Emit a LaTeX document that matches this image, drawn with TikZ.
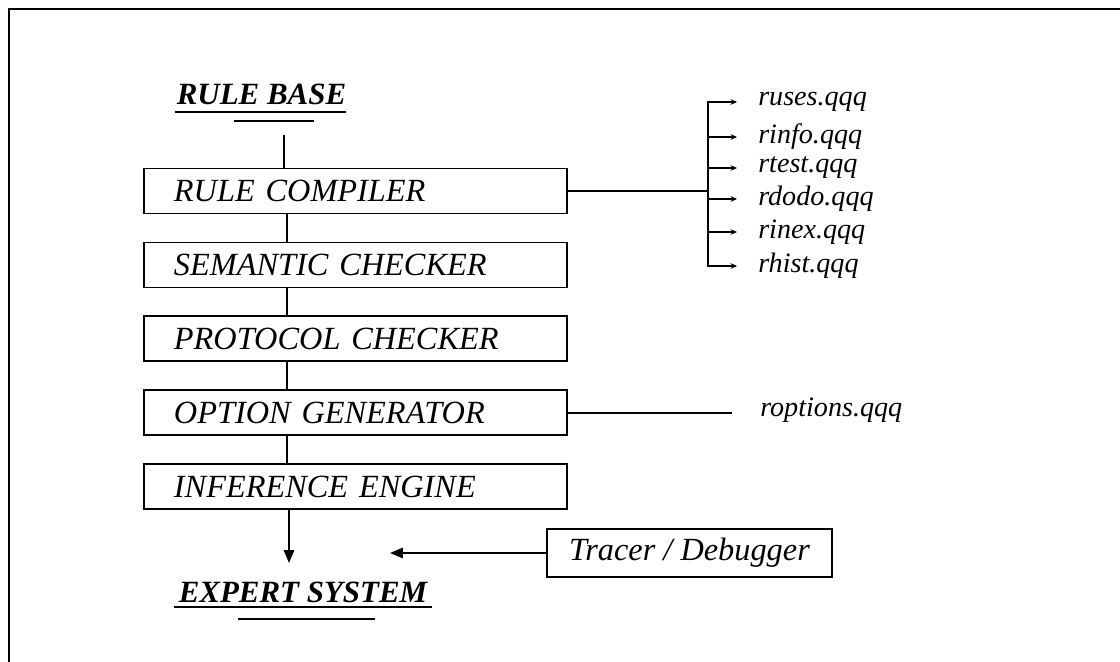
\documentclass[tikz,border=0pt]{standalone}
\usepackage{fontspec}
\setmainfont{Liberation Serif}
\usetikzlibrary{arrows.meta, positioning}

\begin{document}
\begin{tikzpicture}[
    x=0.025cm, y=-0.025cm,
    node distance=0.68cm,
    stage/.style={rectangle, draw=black, line width=1.2pt, text width=9.075cm, inner xsep=0.75cm, inner ysep=0pt, minimum height=1.125cm, align=left, font=\fontsize{23}{26}\selectfont\itshape},
    helper/.style={rectangle, draw=black, line width=1.2pt, inner sep=0pt, minimum width=7.125cm, minimum height=1.2cm, font=\fontsize{23}{26}\selectfont\itshape},
    title/.style={inner sep=0pt, anchor=base, font=\fontsize{22}{26}\selectfont\bfseries\itshape},
    file/.style={anchor=west, inner sep=0pt, font=\fontsize{20}{24}\selectfont\itshape},
    line/.style={draw=black, line width=1.2pt},
    arrow/.style={draw=black, line width=1.2pt, -{Triangle[length=3.2mm, width=2.6mm]}},
    tick/.style={draw=black, line width=1.2pt, -{Stealth[length=1.6mm, width=1.4mm]}},
    frame/.style={draw=black, line width=2pt}
]
    \useasboundingbox (0,0) rectangle (1120,662);

    % --- FRAME (top and left edges only) ---
    \path [frame] (1120,9) -- (9,9) -- (9,662);

    % --- MAIN COLUMN ---
    \node [title] (rulebase) at (261.5,105) {RULE BASE};
    \node [stage] (compiler) at (355.5,191) {RULE COMPILER};
    \node [stage, below=of compiler] (semantic) {SEMANTIC CHECKER};
    \node [stage, below=of semantic] (protocol) {PROTOCOL CHECKER};
    \node [stage, below=of protocol] (option) {OPTION GENERATOR};
    \node [stage, below=of option] (inference) {INFERENCE ENGINE};
    \node [title] (expert) at (303,602) {EXPERT SYSTEM};

    \node [helper] (tracer) at (689.5,553) {Tracer / Debugger};

    % --- DOUBLE UNDERLINES ---
    \path [line] ([shift={(-2,7)}]rulebase.base west) -- ([shift={(0,7)}]rulebase.base east);
    \path [line] ([shift={(-28,16)}]rulebase.base) -- ([shift={(52,16)}]rulebase.base);
    \path [line] ([shift={(-5,5)}]expert.base west) -- ([shift={(5,5)}]expert.base east);
    \path [line] ([shift={(-65,17)}]expert.base) -- ([shift={(72,17)}]expert.base);

    % --- SPINE CONNECTIONS ---
    \coordinate (spine) at (287,0);
    \coordinate (basefoot) at (284,135);
    \coordinate (expertin) at (289,563);
    \coordinate (tracein) at (390,553);

    \path [line] (basefoot) -- (basefoot |- compiler.north);
    \path [line] (compiler.south -| spine) -- (semantic.north -| spine);
    \path [line] (semantic.south -| spine) -- (protocol.north -| spine);
    \path [line] (protocol.south -| spine) -- (option.north -| spine);
    \path [line] (option.south -| spine) -- (inference.north -| spine);
    \path [arrow] (inference.south -| expertin) -- (expertin);
    \path [arrow] (tracer.west) -- (tracein);

    % --- OUTPUT FILES ---
    \coordinate (fork) at (708,191);
    \path [line] (compiler.east) -- (fork);
    \foreach \fname/\fy [count=\i] in {ruses/102, rinfo/137, rtest/168, rdodo/199, rinex/232, rhist/266} {
        \node [file] (f\i) at (758,\fy) {\fname.qqq};
        \path [tick] (fork |- f\i.west) -- ([xshift=-0.525cm]f\i.west);
    }
    \path [line, line cap=rect] (fork |- f1.west) -- (fork |- f6.west);

    \node [file] (ropt) at (760,410) {roptions.qqq};
    \path [line] (option.east) -- ([xshift=-0.7cm]ropt.west |- option.east);

\end{tikzpicture}
\end{document}
